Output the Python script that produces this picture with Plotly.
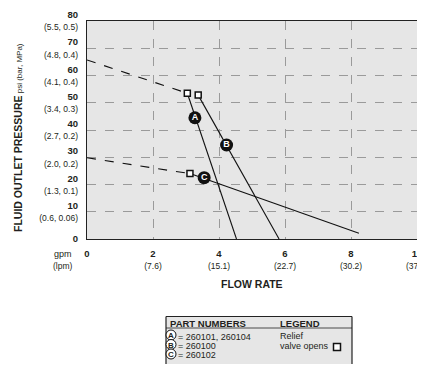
import plotly.graph_objects as go

FONT = "Liberation Sans Narrow, Liberation Sans, Arial"

# y axis ticks: psi with (bar, MPa)
psi_ticks = [0, 10, 20, 30, 40, 50, 60, 70, 80]
psi_sub = ["", "(0.6, 0.06)", "(1.3, 0.1)", "(2.0, 0.2)", "(2.7, 0.2)",
           "(3.4, 0.3)", "(4.1, 0.4)", "(4.8, 0.4)", "(5.5, 0.5)"]
# x axis ticks: gpm with (lpm)
gpm_ticks = [0, 2, 4, 6, 8, 10]
lpm_sub = ["", "(7.6)", "(15.1)", "(22.7)", "(30.2)", "(37.8)"]

# curves (gpm, psi)
a_dash_x = [0, 3.04]
a_dash_y = [65.7, 53.5]
a_x = [3.04, 4.53]
a_y = [53.5, 0]
b_x = [3.37, 5.82]
b_y = [52.8, 0]
c_dash_x = [0, 3.12]
c_dash_y = [29.8, 24.0]
c_x = [3.12, 8.24]
c_y = [24.0, 2.1]

# relief valve opening points
relief_x = [3.04, 3.37, 3.12]
relief_y = [53.5, 52.8, 24.0]

# curve labels
label_names = ["A", "B", "C"]
label_x = [3.27, 4.23, 3.55]
label_y = [44.5, 34.5, 22.5]

part_numbers = ["= 260101, 260104", "= 260100", "= 260102"]


# page has an 8px body margin, so positions below are given in window pixels
def px(wx):
    return (wx - 87) / 330


def py(wy):
    return (239 - wy) / 218


fig = go.Figure()
for xs, ys, dash in [(a_dash_x, a_dash_y, "dash"), (a_x, a_y, "solid"),
                     (b_x, b_y, "solid"),
                     (c_dash_x, c_dash_y, "dash"), (c_x, c_y, "solid")]:
    fig.add_trace(go.Scatter(x=xs, y=ys, mode="lines", showlegend=False,
                             line=dict(color="#111", width=1.1, dash=dash)))

fig.add_trace(go.Scatter(
    x=relief_x, y=relief_y, mode="markers", showlegend=False,
    marker=dict(symbol="square", size=6, color="white",
                line=dict(color="#111", width=1.5))))

fig.add_trace(go.Scatter(
    x=label_x, y=label_y, mode="markers+text", text=label_names,
    textposition="middle center", showlegend=False,
    textfont=dict(family=FONT, size=9, color="white", weight="bold"),
    marker=dict(size=13, color="#111")))

ytext = []
for v, s in zip(psi_ticks, psi_sub):
    t = "<b>%d</b>" % v
    if s:
        t += "<br><span style='font-size:8.5px'>%s</span>" % s
    ytext.append(t)
xtext = []
for v, s in zip(gpm_ticks, lpm_sub):
    t = "<b>%d</b>" % v
    if s:
        t += "<br><span style='font-size:8.5px'>%s</span>" % s
    xtext.append(t)

fig.update_xaxes(range=[0, 10], tickvals=gpm_ticks, ticktext=xtext,
                 showgrid=True, gridcolor="#9a9a9a", griddash="dash",
                 gridwidth=1, showline=True, linecolor="#222", linewidth=1.2,
                 mirror=True, zeroline=False, ticks="", ticklabelstandoff=5,
                 ticklabeloverflow="allow", automargin=False)
fig.update_yaxes(range=[0, 80], tickvals=psi_ticks, ticktext=ytext,
                 showgrid=True, gridcolor="#9a9a9a", griddash="dash",
                 gridwidth=1, showline=True, linecolor="#222", linewidth=1.2,
                 mirror=True, zeroline=False, ticks="", ticklabelstandoff=6,
                 ticklabeloverflow="allow", automargin=False)


def note(wx, wy, text, size, xanchor="center", **kw):
    return dict(x=px(wx), y=py(wy), xref="paper", yref="paper", text=text,
                xanchor=xanchor, yanchor="middle", font=dict(size=size),
                showarrow=False, **kw)


ann = [
    note(18, 138, "<b>FLUID OUTLET PRESSURE</b><span style='font-size:8px'> psi (bar, MPa)</span>",
         10.5, textangle=-90),
    note(252, 284, "<b>FLOW RATE</b>", 10.5),
    note(63, 260, "gpm<br><span style='font-size:8.5px'>(lpm)</span>", 9),
]

shapes = []
# legend box (open at the bottom, cut by the page edge)
bx0, bx1 = px(166), px(352)
by0, by1 = py(400), py(316.5)
shapes.append(dict(type="rect", xref="paper", yref="paper", x0=bx0, x1=bx1,
                   y0=by0, y1=by1, fillcolor="#e6e6e6", line=dict(width=0),
                   layer="below"))
for x0, y0, x1, y1 in [(bx0, by0, bx0, by1), (bx1, by0, bx1, by1),
                       (bx0, by1, bx1, by1)]:
    shapes.append(dict(type="line", xref="paper", yref="paper", x0=x0, x1=x1,
                       y0=y0, y1=y1, line=dict(color="#222", width=1.2)))
shapes.append(dict(type="line", xref="paper", yref="paper", x0=bx0, x1=bx1,
                   y0=py(328), y1=py(328),
                   line=dict(color="#222", width=0.8)))
ann.append(note(168, 323, "<b>PART NUMBERS</b>", 9.5, xanchor="left"))
ann.append(note(278, 323, "<b>LEGEND</b>", 9.5, xanchor="left"))
ann.append(note(278, 336, "Relief", 9, xanchor="left"))
ann.append(note(278, 345.5, "valve opens", 9, xanchor="left"))
shapes.append(dict(type="rect", xref="paper", yref="paper", xsizemode="pixel",
                   ysizemode="pixel", xanchor=px(337), yanchor=py(347),
                   x0=-3.5, x1=3.5, y0=-3.5, y1=3.5, fillcolor="white",
                   line=dict(color="#111", width=1.5)))
row_py = [335, 344.5, 354]
for name, pn, wy in zip(label_names, part_numbers, row_py):
    shapes.append(dict(type="circle", xref="paper", yref="paper",
                       xsizemode="pixel", ysizemode="pixel", xanchor=px(171),
                       yanchor=py(wy), x0=-5, x1=5, y0=-5, y1=5,
                       fillcolor="white", line=dict(color="#111", width=1)))
    ann.append(note(171, wy + 0.5, "<b>%s</b>" % name, 8))
    ann.append(note(176, wy + 1.5, pn, 9, xanchor="left"))

fig.update_layout(
    width=417, height=356, margin=dict(l=79, r=8, t=13, b=125),
    plot_bgcolor="#e6e6e6", paper_bgcolor="white",
    font=dict(family=FONT, size=9.5, color="#231f20"),
    annotations=ann, shapes=shapes, showlegend=False,
)

fig.write_html("out.html")
